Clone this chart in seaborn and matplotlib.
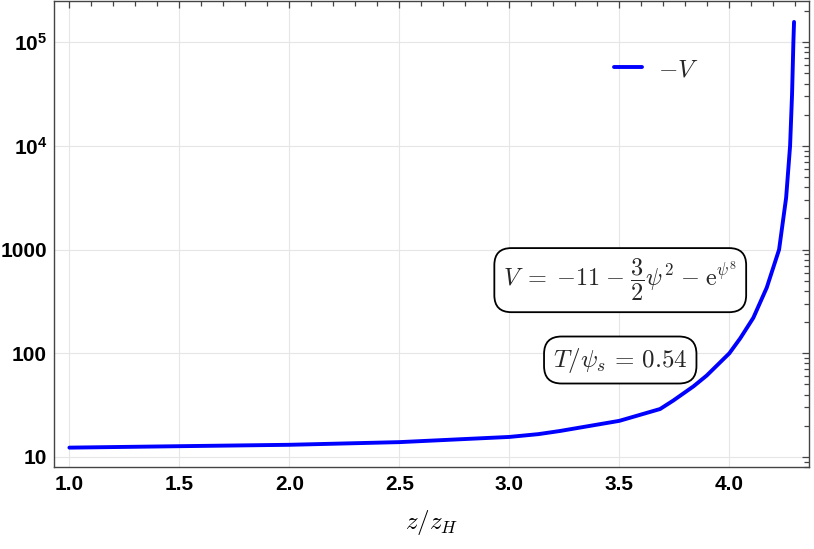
import matplotlib
matplotlib.use("Agg")
import matplotlib.pyplot as plt
import matplotlib.ticker as mticker
import numpy as np
import pandas as pd
import seaborn as sns

# curve: -V against z/z_H
z = [1.0, 1.5, 2.0, 2.5, 3.0, 3.132, 3.23, 3.5, 3.685, 3.745, 3.837, 3.897,
     4.0, 4.05, 4.109, 4.17, 4.226, 4.258, 4.276, 4.285, 4.291, 4.294]
minus_v = [12.3, 12.7, 13.1, 13.9, 15.6, 16.6, 17.8, 22.3, 29.0, 35, 48, 61,
           100, 140, 220, 430, 1000, 3160, 10000, 31600, 100000, 157000]
x_ticks = [1.0, 1.5, 2.0, 2.5, 3.0, 3.5, 4.0]
y_ticks = [10, 100, 1000, 1e4, 1e5]

df = pd.DataFrame({"z": z, "mV": minus_v})

sns.set_style("white")
plt.rcParams["font.family"] = ["Liberation Sans", "DejaVu Sans"]
plt.rcParams["mathtext.fontset"] = "custom"
plt.rcParams["mathtext.rm"] = "Liberation Sans"
plt.rcParams["mathtext.bf"] = "Liberation Sans:bold"

fig = plt.figure(figsize=(8.14, 5.49), dpi=100)
ax = fig.add_axes([54 / 814, 1 - 467 / 549, 755 / 814, 466 / 549])

sns.lineplot(data=df, x="z", y="mV", ax=ax, color="#0000ff", linewidth=2.8,
             label=r"$-V$", sort=False)

ax.set_yscale("log")
ax.set_xlim(0.93, 4.362)
ax.set_ylim(8.0, 2.5e5)

ax.set_xticks(x_ticks)
ax.xaxis.set_major_formatter(mticker.FormatStrFormatter("%.1f"))
ax.xaxis.set_minor_locator(mticker.MultipleLocator(0.1))
ax.set_yticks(y_ticks)
ax.yaxis.set_minor_locator(mticker.LogLocator(base=10, subs=np.arange(2, 10)))
ax.yaxis.set_minor_formatter(mticker.NullFormatter())


def ylab(v, pos):
    if v < 1e4:
        return "%d" % v
    return r"$\mathbf{10^{%d}}$" % round(np.log10(v))


ax.yaxis.set_major_formatter(mticker.FuncFormatter(ylab))

ax.grid(True, which="major", color="#e6e6e6", linewidth=0.8)
ax.tick_params(which="both", direction="in", top=True, right=True,
               color="#444444", labelcolor="black", labelsize=15, width=0.9)
ax.tick_params(which="major", length=5)
ax.tick_params(which="minor", length=3.5)
ax.tick_params(axis="x", pad=6)
ax.tick_params(axis="y", pad=5)
for lab in ax.get_xticklabels() + ax.get_yticklabels():
    lab.set_fontweight("bold")
for sp in ax.spines.values():
    sp.set_color("#444444")
    sp.set_linewidth(1.0)

xl = ax.set_xlabel(r"$z/z_H$", fontsize=18, labelpad=10, color="black")
xl.set_math_fontfamily("cm")
ax.set_ylabel("")

leg = ax.legend(loc="center", bbox_to_anchor=(0.798, 0.854), frameon=False,
                fontsize=18, handlelength=1.12, handletextpad=0.65)
for t in leg.get_texts():
    t.set_math_fontfamily("cm")

box = dict(boxstyle="round,pad=0.36,rounding_size=0.7", fc="white",
           ec="black", lw=1.3)
t1 = ax.text(0.750, 0.401,
             r"$V\;{=}\;{-}11\;{-}\;\dfrac{3}{2}\psi^2\;{-}\;\mathrm{e}^{\psi^8}$",
             transform=ax.transAxes, ha="center", va="center", fontsize=17.5,
             bbox=box)
t1.set_math_fontfamily("cm")
t2 = ax.text(0.750, 0.2296, r"$T/\psi_s\,=\,0.54$", transform=ax.transAxes,
             ha="center", va="center", fontsize=18, bbox=box)
t2.set_math_fontfamily("cm")

fig.savefig("out.png", dpi=100)
